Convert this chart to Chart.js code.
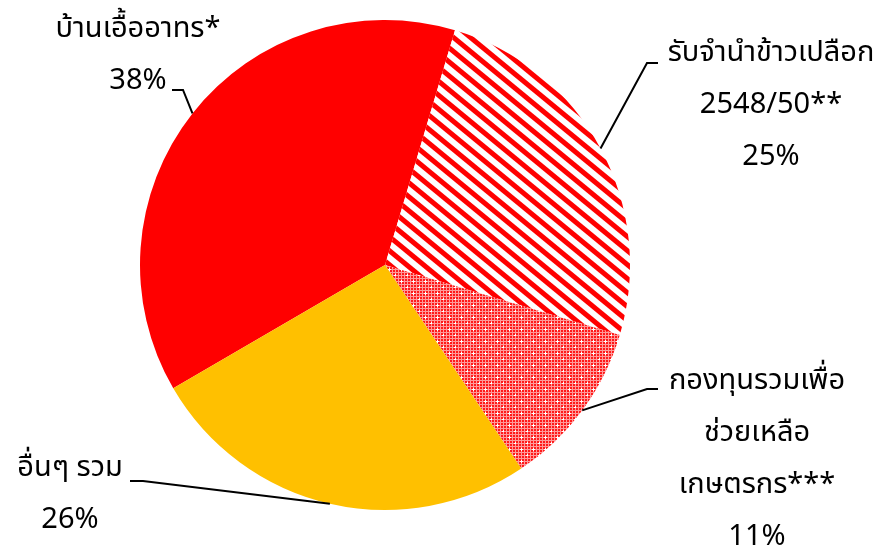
<!DOCTYPE html>
<html>
<head>
<meta charset="utf-8">
<script src="https://cdn.jsdelivr.net/npm/chart.js@4/dist/chart.umd.min.js"></script>
<style>
  html, body { margin: 0; padding: 0; background: #fff; }
  #wrap { width: 886px; height: 546px; }
</style>
</head>
<body>
<div id="wrap"><canvas id="pie"></canvas></div>
<script>
// slices, clockwise from the red one
const labels = [
    ['บ้านเอื้ออาทร*'],
    ['รับจำนำข้าวเปลือก', '2548/50**'],
    ['กองทุนรวมเพื่อ', 'ช่วยเหลือ', 'เกษตรกร***'],
    ['อื่นๆ รวม']
];
const shares = [38, 25, 11, 26];

const FONT = "'Noto Sans Thai', 'Noto Sans', sans-serif";

function stripes() {
    const w = 17, h = 14;
    const c = document.createElement('canvas');
    c.width = w; c.height = h;
    const g = c.getContext('2d');
    g.fillStyle = '#fff';
    g.fillRect(0, 0, w, h);
    g.strokeStyle = '#ff0000';
    g.lineWidth = 5;
    for (const x0 of [-w, 0, w]) {
        g.beginPath();
        g.moveTo(x0 - w, -h);
        g.lineTo(x0 + 2 * w, 2 * h);
        g.stroke();
    }
    return g.createPattern(c, 'repeat');
}

function dots() {
    const s = 12;
    const c = document.createElement('canvas');
    c.width = s; c.height = s;
    const g = c.getContext('2d');
    g.fillStyle = '#ff9a9a';
    g.fillRect(0, 0, s, s);
    g.fillStyle = '#ff1a1a';
    for (let y = 0; y < s; y += 3) {
        for (let x = 0; x < s; x += 3) g.fillRect(x, y, 2, 2);
    }
    g.fillStyle = '#fff';
    for (const [cx, cy] of [[5, 5], [11, 11]]) {
        g.fillRect(cx - 1, cy, 3, 1);
        g.fillRect(cx, cy - 1, 1, 3);
    }
    return g.createPattern(c, 'repeat');
}

// where each label block sits, relative to the pie centre, its elbow and tail
const labelSpots = [
    { dx: -247, dy: -234, elbow: [-202, -175], tail: -11 },
    { dx: 386, dy: -210, elbow: [262, -202], tail: 11 },
    { dx: 372, dy: 118, elbow: [262, 124], tail: 11 },
    { dx: -315, dy: 205, elbow: [-242, 216], tail: -13 }
];

const pieLabels = {
    id: 'pieLabels',
    afterDraw(chart) {
        const ctx = chart.ctx;
        const arcs = chart.getDatasetMeta(0).data;
        const total = shares.reduce((a, b) => a + b, 0);
        ctx.save();
        ctx.font = '29px ' + FONT;
        ctx.fillStyle = '#000';
        ctx.textAlign = 'center';
        ctx.textBaseline = 'middle';
        arcs.forEach((arc, i) => {
            const p = arc.getProps(['x', 'y', 'startAngle', 'endAngle', 'outerRadius'], true);
            const mid = (p.startAngle + p.endAngle) / 2;
            const ex = p.x + Math.cos(mid) * p.outerRadius;
            const ey = p.y + Math.sin(mid) * p.outerRadius;
            const spot = labelSpots[i];
            const lines = labels[i].concat([Math.round(shares[i] / total * 100) + '%']);
            lines.forEach((t, k) => {
                ctx.fillText(t, p.x + spot.dx, p.y + spot.dy + k * 52);
            });
            // leader line with a short horizontal tail next to the text
            const bx = p.x + spot.elbow[0];
            const by = p.y + spot.elbow[1];
            ctx.strokeStyle = '#000';
            ctx.lineWidth = 2;
            ctx.beginPath();
            ctx.moveTo(bx + spot.tail, by);
            ctx.lineTo(bx, by);
            ctx.lineTo(ex, ey);
            ctx.stroke();
        });
        ctx.restore();
    }
};

new Chart(document.getElementById('pie'), {
    type: 'pie',
    data: {
        labels: labels.map(l => l.join(' ')),
        datasets: [{
            data: shares,
            backgroundColor: ['#ff0000', stripes(), dots(), '#ffc000'],
            borderWidth: 0
        }]
    },
    options: {
        responsive: true,
        maintainAspectRatio: false,
        animation: false,
        rotation: 239.8,
        layout: { padding: { left: 140, right: 256, top: 20, bottom: 36 } },
        plugins: {
            legend: { display: false },
            tooltip: { enabled: false }
        }
    },
    plugins: [pieLabels]
});
</script>
</body>
</html>
